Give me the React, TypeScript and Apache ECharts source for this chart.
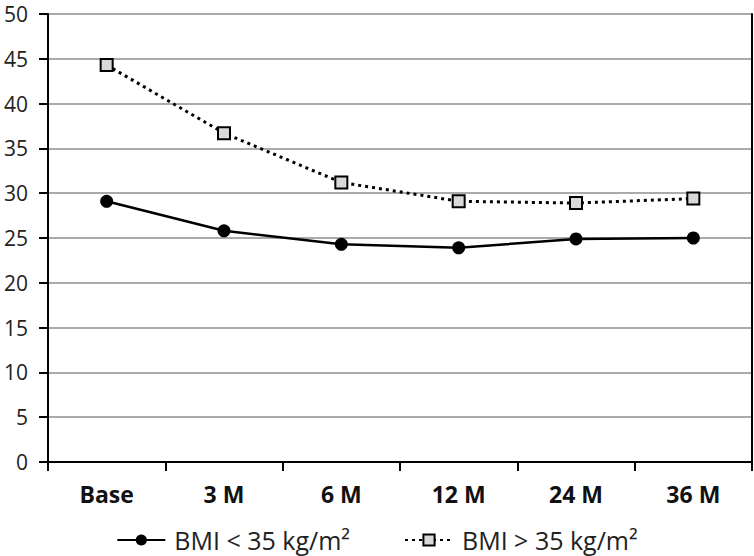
import React, { useEffect, useRef } from "react";
import * as echarts from "echarts";

const categories = ["Base", "3 M", "6 M", "12 M", "24 M", "36 M"];
const seriesLowName = "BMI < 35 kg/m²";
const seriesHighName = "BMI > 35 kg/m²";
const lowValues = [29.1, 25.8, 24.3, 23.9, 24.9, 25.0];
const highValues = [44.3, 36.7, 31.2, 29.1, 28.9, 29.4];

const FONT = "Open Sans";

export default function App() {
  const ref = useRef<HTMLDivElement>(null);
  useEffect(() => {
    const chart = echarts.init(ref.current!, null, { renderer: "svg" });
    chart.setOption({
      animation: false,
      backgroundColor: "#fff",
      textStyle: { fontFamily: FONT },
      grid: { left: 48, right: 2, top: 14, bottom: 94 },
      legend: {
        bottom: 3,
        left: "center",
        padding: 0,
        itemWidth: 48,
        itemHeight: 14,
        itemGap: 54,
        textStyle: { fontSize: 25, lineHeight: 26, color: "#222", fontFamily: FONT, padding: [0, 0, 0, 4] },
        data: [seriesLowName, seriesHighName],
      },
      xAxis: {
        type: "category",
        data: categories,
        boundaryGap: true,
        axisLine: { lineStyle: { color: "#000", width: 2 } },
        axisTick: { show: true, length: 9, lineStyle: { color: "#000", width: 2 } },
        axisLabel: { fontSize: 23, lineHeight: 22, fontWeight: "bold", color: "#111", margin: 21, fontFamily: FONT },
      },
      yAxis: [
        {
          type: "value",
          min: 0,
          max: 50,
          interval: 5,
          axisLine: { show: true, lineStyle: { color: "#000", width: 2 } },
          axisTick: { show: true, length: 9, lineStyle: { color: "#000", width: 2 } },
          axisLabel: { fontSize: 21, color: "#222", margin: 20, fontFamily: FONT },
          splitLine: { lineStyle: { color: "#aaa", width: 2 } },
        },
        {
          type: "value",
          min: 0,
          max: 50,
          interval: 5,
          position: "right",
          axisLine: { show: true, lineStyle: { color: "#000", width: 2 } },
          axisTick: { show: false },
          axisLabel: { show: false },
          splitLine: { show: false },
        },
      ],
      series: [
        {
          name: seriesLowName,
          type: "line",
          data: lowValues,
          symbol: "circle",
          symbolSize: 13,
          itemStyle: { color: "#000" },
          lineStyle: { color: "#000", width: 2.5 },
        },
        {
          name: seriesHighName,
          type: "line",
          data: highValues,
          symbol: "rect",
          symbolSize: 12,
          itemStyle: { color: "#d9d9d9", borderColor: "#000", borderWidth: 2 },
          lineStyle: { color: "#000", width: 3, type: [3, 4] },
        },
      ],
    });
    return () => chart.dispose();
  }, []);
  return <div ref={ref} style={{ width: 754, height: 556, position: "absolute", left: 0, top: 0 }} />;
}
